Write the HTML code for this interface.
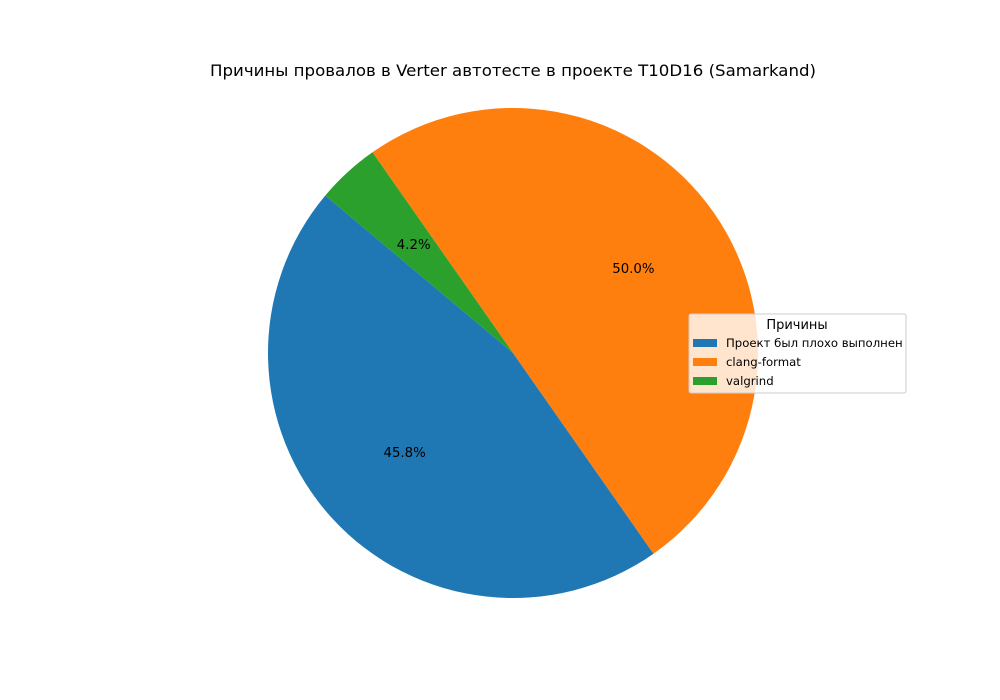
<!DOCTYPE html>
<html><head><meta charset="utf-8"><style>body{margin:0;background:#fff}svg{display:block}text{font-family:"DejaVu Sans","Liberation Sans",sans-serif}</style></head>
<body>
<svg id="chart" width="1000" height="700" viewBox="0 0 1000 700">
<rect width="1000" height="700" fill="#fff"/>
<text x="513" y="76" font-size="16" text-anchor="middle" textLength="606" lengthAdjust="spacingAndGlyphs">Причины провалов в Verter автотесте в проекте T10D16 (Samarkand)</text>
<g id="slices"></g>
<g id="legend"></g>
</svg>
<script>
const categories = ["Проект был плохо выполнен", "clang-format", "valgrind"];
const values = [11, 12, 1];
const colors = ["#1f77b4", "#ff7f0e", "#2ca02c"];
const NS = "http://www.w3.org/2000/svg";
const cx = 513, cy = 353, r = 245, startAngle = 140;
const total = values.reduce((a, b) => a + b, 0);
const g = document.getElementById('slices');
function pt(deg, rad) { const a = deg * Math.PI / 180; return [cx + rad * Math.cos(a), cy - rad * Math.sin(a)]; }
let ang = startAngle;
values.forEach((v, i) => {
  const sweep = v / total * 360;
  const [x1, y1] = pt(ang, r), [x2, y2] = pt(ang + sweep, r);
  const p = document.createElementNS(NS, 'path');
  p.setAttribute('d', `M${cx},${cy} L${x1},${y1} A${r},${r} 0 ${sweep > 180 ? 1 : 0} 0 ${x2},${y2} Z`);
  p.setAttribute('fill', colors[i]);
  
  
  g.appendChild(p);
  const [lx, ly] = pt(ang + sweep / 2, r * 0.6);
  const t = document.createElementNS(NS, 'text');
  t.setAttribute('x', lx); t.setAttribute('y', ly + 4.5);
  t.setAttribute('font-size', '13.3'); t.setAttribute('text-anchor', 'middle');
  t.textContent = (v / total * 100).toFixed(1) + '%';
  
  
  g.appendChild(t);
  ang += sweep;
});
const lg = document.getElementById('legend');
const box = document.createElementNS(NS, 'rect');
box.setAttribute('x', 689); box.setAttribute('y', 314); box.setAttribute('width', 217); box.setAttribute('height', 79);
box.setAttribute('rx', 2); box.setAttribute('fill', 'rgba(255,255,255,0.8)'); box.setAttribute('stroke', '#cccccc');


lg.appendChild(box);
const lt = document.createElementNS(NS, 'text');
lt.setAttribute('x', 797); lt.setAttribute('y', 329); lt.setAttribute('font-size', '13'); lt.setAttribute('text-anchor', 'middle');
lt.textContent = 'Причины';


lg.appendChild(lt);
categories.forEach((c, i) => {
  const y = 343 + i * 19;
  const sw = document.createElementNS(NS, 'rect');
  sw.setAttribute('x', 693); sw.setAttribute('y', y - 4); sw.setAttribute('width', 24); sw.setAttribute('height', 8);
  sw.setAttribute('fill', colors[i]);
  
  
  lg.appendChild(sw);
  const t = document.createElementNS(NS, 'text');
  t.setAttribute('x', 726); t.setAttribute('y', y + 4); t.setAttribute('font-size', '11.7');
  t.textContent = c;
  
  
  lg.appendChild(t);
});
</script>
</body></html>
